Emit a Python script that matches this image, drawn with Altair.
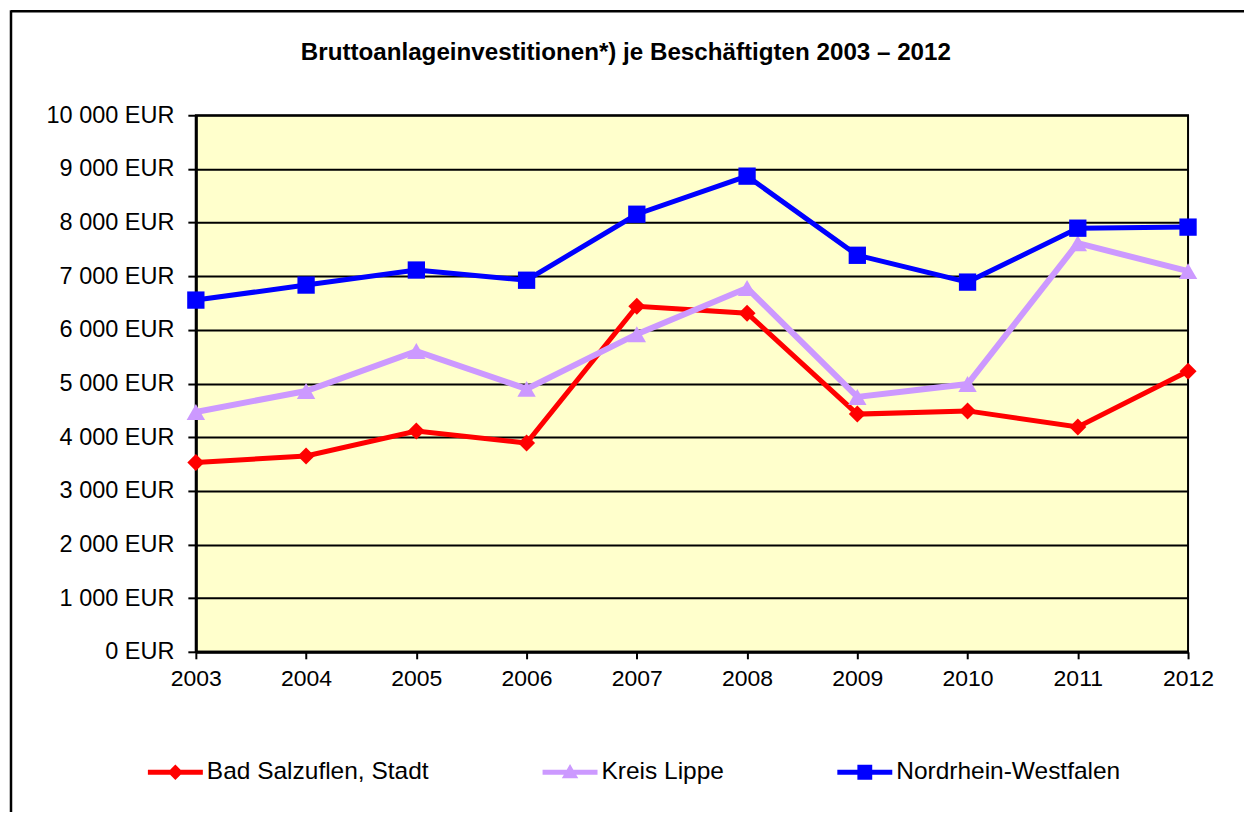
import altair as alt
import pandas as pd

years = ["2003", "2004", "2005", "2006", "2007", "2008", "2009", "2010", "2011", "2012"]
series_names = ["Bad Salzuflen, Stadt", "Kreis Lippe", "Nordrhein-Westfalen"]
bad_salzuflen = [3530, 3650, 4115, 3890, 6440, 6310, 4430, 4490, 4190, 5230]
kreis_lippe = [4470, 4860, 5605, 4900, 5920, 6780, 4750, 4990, 7615, 7095]
nordrhein_westfalen = [6555, 6835, 7115, 6925, 8155, 8865, 7390, 6890, 7895, 7915]
y_ticks = [0, 1000, 2000, 3000, 4000, 5000, 6000, 7000, 8000, 9000, 10000]
title_text = "Bruttoanlageinvestitionen*) je Beschäftigten 2003 – 2012"

colors = ["#FF0000", "#CC99FF", "#0000FF"]
marker_shapes = ["diamond", "triangle-up", "square"]
marker_sizes = [290, 340, 300]
line_widths = [5, 6, 5]
legend_paths = [
    "M-1,-0.09L-0.19,-0.09L0,-0.28L0.19,-0.09L1,-0.09L1,0.09L0.19,0.09L0,0.28L-0.19,0.09L-1,0.09Z",
    "M-1,-0.09L-0.121,-0.09L0,-0.3L0.121,-0.09L1,-0.09L1,0.09L0.225,0.09L0.3,0.22L-0.3,0.22L-0.225,0.09L-1,0.09Z",
    "M-1,-0.09L-0.27,-0.09L-0.27,-0.27L0.27,-0.27L0.27,-0.09L1,-0.09L1,0.09L0.27,0.09L0.27,0.27L-0.27,0.27L-0.27,0.09L-1,0.09Z",
]

FONT = "Liberation Sans"

rows = []
for name, vals in zip(series_names, [bad_salzuflen, kreis_lippe, nordrhein_westfalen]):
    for yr, v in zip(years, vals):
        rows.append({"year": yr, "series": name, "value": v})
df = pd.DataFrame(rows)

x_enc = alt.X(
    "year:O",
    scale=alt.Scale(type="point", padding=0),
    sort=years,
    axis=alt.Axis(
        title=None, labelAngle=0, labelFont=FONT, labelFontSize=23, labelColor="black",
        tickSize=7, tickWidth=2, tickColor="black", domainColor="black", domainWidth=3,
        labelPadding=9, grid=False,
    ),
)
y_enc = alt.Y(
    "value:Q",
    scale=alt.Scale(domain=[0, 10000], nice=False),
    axis=alt.Axis(
        title=None, values=y_ticks, labelFont=FONT, labelFontSize=23.5, labelColor="black",
        labelExpr="replace(format(datum.value, ','), ',', ' ') + ' EUR'",
        tickSize=8, tickWidth=2, tickColor="black", domainColor="black", domainWidth=3,
        labelPadding=14, grid=True, gridColor="black", gridWidth=2, gridOpacity=1,
    ),
)

base = alt.Chart(df)

frame_df = pd.DataFrame({"f": [0]})
frame_top = alt.Chart(frame_df).mark_rule(stroke="black", strokeWidth=2.5).encode(
    x=alt.value(-185), x2=alt.value(1400), y=alt.value(-104)
)
frame_left = alt.Chart(frame_df).mark_rule(stroke="black", strokeWidth=2.5).encode(
    x=alt.value(-185), y=alt.value(-105), y2=alt.value(900)
)

layers = [frame_top, frame_left]
for i, name in enumerate(series_names):
    sub = base.transform_filter(alt.datum.series == name)
    layers.append(
        sub.mark_line(strokeWidth=line_widths[i], color=colors[i]).encode(x=x_enc, y=y_enc)
    )
    layers.append(
        sub.mark_point(shape=marker_shapes[i], size=marker_sizes[i], filled=True, opacity=1,
                       color=colors[i]).encode(x=x_enc, y=y_enc)
    )

legend_props = dict(
    title=None, orient="none", legendX=-48, legendY=630, direction="horizontal", columns=3,
    columnPadding=113, labelFont=FONT, labelFontSize=24.5, labelColor="black", labelOffset=4,
    labelLimit=500, symbolSize=3025, symbolStrokeWidth=0, padding=0,
)
legend_layer = base.transform_filter("false").mark_point(filled=True, opacity=1).encode(
    x=x_enc,
    y=y_enc,
    color=alt.Color("series:N", scale=alt.Scale(domain=series_names, range=colors),
                    legend=alt.Legend(**legend_props)),
    shape=alt.Shape("series:N", scale=alt.Scale(domain=series_names, range=legend_paths),
                    legend=alt.Legend(**legend_props)),
)
layers.append(legend_layer)

chart = alt.layer(*layers).properties(
    width=993,
    height=537,
    title=alt.TitleParams(
        text=title_text, anchor="start", frame="group", dx=105, dy=75, font=FONT, fontSize=24.2,
        fontWeight="bold", color="black", offset=0, baseline="alphabetic",
    ),
    padding={"left": 188, "top": 107, "right": 56, "bottom": 160},
    autosize=alt.AutoSizeParams(type="none"),
).configure(
    background="white",
    view=alt.ViewConfig(fill="#FFFFCC", stroke="black", strokeWidth=2),
)

chart.save("out.html", embed_options={"renderer": "svg", "actions": False})
